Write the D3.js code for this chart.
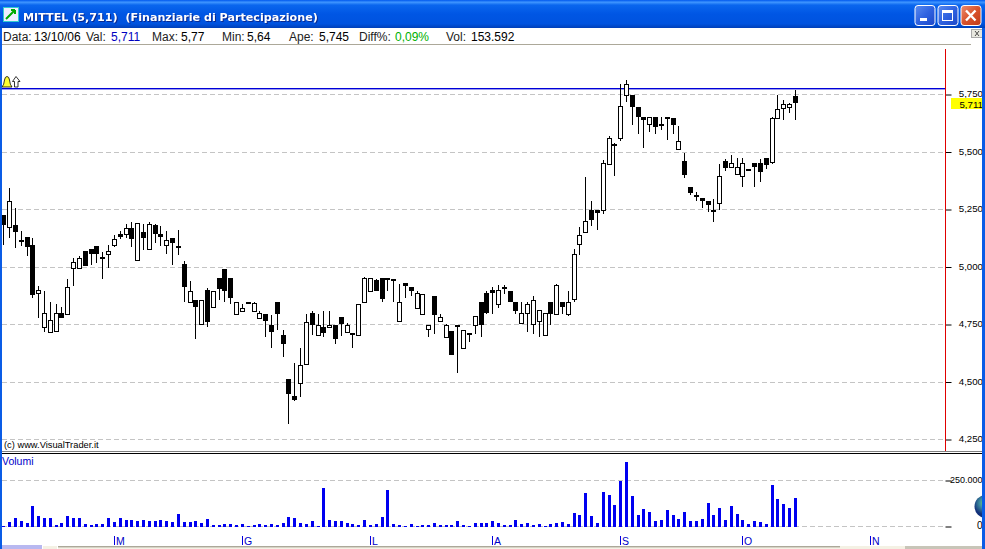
<!DOCTYPE html>
<html><head><meta charset="utf-8">
<script src="https://cdn.jsdelivr.net/npm/d3@7"></script>
<style>html,body{margin:0;padding:0;background:#fff;overflow:hidden}svg{display:block}</style>
</head><body><svg id="c" width="985" height="549"></svg>
<script>
const titleText="MITTEL (5,711)  (Finanziarie di Partecipazione)";
const opens=[5.226,5.175,5.182,5.117,5.129,5.095,4.888,4.740,4.718,4.723,4.798,4.797,4.997,4.997,5.069,5.078,5.091,5.042,5.058,5.097,5.143,5.145,5.168,5.031,5.152,5.079,5.181,5.143,5.097,5.124,5.091,5.013,4.849,
4.855,4.753,4.898,4.827,4.952,4.991,4.952,4.797,4.810,4.847,4.810,4.779,4.794,4.750,4.846,4.704,4.511,4.441,4.496,4.579,4.798,4.705,4.741,4.740,4.750,4.781,4.718,4.711,4.705,4.849,4.897,4.942,4.950,4.950,
4.947,4.766,4.929,4.915,4.823,4.797,4.731,4.876,4.766,4.696,4.720,4.750,4.649,4.711,4.749,4.850,4.889,4.898,4.840,4.915,4.894,4.850,4.757,4.798,4.753,4.766,4.705,4.850,4.797,4.850,4.797,
4.863,5.098,5.150,5.250,5.250,5.250,5.449,5.534,5.559,5.750,5.750,5.694,5.652,5.620,5.650,5.620,5.650,5.647,5.515,5.459,5.346,5.311,5.298,5.285,5.250,5.279,5.459,5.433,5.405,5.396,5.420,5.450,5.450,5.472,5.457,5.649,5.692,5.697,5.745];
const highs=[5.226,5.342,5.255,5.156,5.129,5.124,4.917,4.895,4.847,4.839,4.827,4.947,5.037,5.047,5.069,5.078,5.091,5.065,5.095,5.139,5.156,5.187,5.194,5.190,5.187,5.194,5.187,5.178,5.156,5.124,5.160,5.026,4.939,
4.855,4.855,4.907,4.894,4.952,4.991,4.952,4.846,4.837,4.847,4.847,4.808,4.794,4.791,4.846,4.725,4.515,4.582,4.647,4.794,4.808,4.794,4.808,4.808,4.750,4.781,4.755,4.711,4.837,4.956,4.950,4.946,4.950,4.950,
4.947,4.926,4.929,4.915,4.895,4.881,4.750,4.876,4.794,4.754,4.720,4.750,4.724,4.711,4.789,4.850,4.894,4.915,4.921,4.921,4.894,4.850,4.847,4.847,4.872,4.811,4.798,4.850,4.926,4.850,4.894,
5.077,5.176,5.391,5.289,5.250,5.467,5.568,5.541,5.794,5.815,5.750,5.694,5.652,5.650,5.650,5.650,5.650,5.647,5.612,5.495,5.346,5.328,5.298,5.285,5.295,5.447,5.469,5.486,5.473,5.473,5.428,5.450,5.469,5.472,5.652,5.747,5.726,5.715,5.77];
const lows=[5.095,5.127,5.084,5.092,5.047,4.866,4.779,4.718,4.718,4.723,4.778,4.797,4.917,4.997,5.004,5.008,5.017,4.947,4.995,5.087,5.121,5.124,5.087,5.031,5.073,5.079,5.104,5.091,5.056,5.008,5.052,4.847,4.849,
4.686,4.753,4.740,4.827,4.856,4.847,4.839,4.797,4.810,4.837,4.810,4.779,4.695,4.647,4.725,4.608,4.317,4.417,4.434,4.579,4.704,4.705,4.695,4.740,4.665,4.700,4.718,4.647,4.705,4.849,4.897,4.895,4.847,4.895,
4.847,4.766,4.865,4.873,4.823,4.797,4.695,4.708,4.766,4.696,4.617,4.538,4.649,4.673,4.708,4.695,4.795,4.795,4.821,4.882,4.847,4.795,4.757,4.717,4.708,4.695,4.705,4.747,4.797,4.795,4.786,
4.848,5.051,5.150,5.179,5.160,5.231,5.449,5.395,5.547,5.717,5.617,5.578,5.517,5.586,5.578,5.595,5.552,5.578,5.515,5.386,5.312,5.286,5.256,5.238,5.195,5.247,5.417,5.433,5.405,5.347,5.420,5.347,5.369,5.425,5.447,5.649,5.639,5.669,5.64];
const closes=[5.182,5.285,5.153,5.108,5.088,4.878,4.902,4.798,4.768,4.798,4.778,4.915,5.020,5.037,5.004,5.056,5.056,5.036,5.068,5.120,5.130,5.168,5.121,5.190,5.126,5.185,5.143,5.130,5.116,5.104,5.088,4.913,4.894,
4.827,4.855,4.762,4.894,4.904,4.895,4.865,4.846,4.820,4.843,4.842,4.798,4.766,4.717,4.795,4.665,4.447,4.421,4.572,4.759,4.747,4.750,4.714,4.750,4.686,4.752,4.746,4.704,4.837,4.950,4.950,4.895,4.860,4.943,
4.944,4.850,4.917,4.895,4.889,4.881,4.750,4.791,4.781,4.750,4.617,4.743,4.724,4.708,4.789,4.749,4.798,4.886,4.898,4.908,4.847,4.808,4.798,4.837,4.855,4.811,4.798,4.795,4.920,4.827,4.850,
5.058,5.141,5.202,5.205,5.233,5.454,5.563,5.525,5.702,5.794,5.694,5.653,5.640,5.650,5.610,5.614,5.647,5.617,5.546,5.399,5.322,5.305,5.288,5.269,5.247,5.394,5.431,5.450,5.433,5.450,5.428,5.436,5.414,5.443,5.646,5.689,5.707,5.707,5.711];
const volumes=[900,23700,47400,27300,18200,109400,54700,45600,45600,7300,16400,54700,47400,45600,14600,5500,10900,10900,43800,21900,43800,32800,32800,27300,32800,27300,27300,32800,27300,21900,65600,25500,21900,27300,16400,38300,5500,9100,14600,10900,5500,14600,1800,7300,10900,9100,12800,9100,16400,49200,43800,18200,10900,27300,3600,207800,34600,29200,29200,18200,12800,7300,34600,5500,12800,51000,198700,12800,7300,3600,12800,3600,5500,7300,18200,9100,9100,9100,29200,9100,3600,18200,18200,18200,29200,18200,7300,9100,34600,12800,18200,9100,12800,3600,12800,18200,23700,12800,72900,62000,182300,56500,18200,187800,171400,116700,247900,351800,165900,62000,94800,78400,29200,32800,87500,60200,38300,76600,27300,27300,38300,125800,60200,98400,32800,109400,65600,32800,10900,27300,21900,10900,224200,147700,120300,98400,153592];
const priceTicks=[5.75,5.5,5.25,5,4.75,4.5,4.25];
const volumeTicks=[250000,0];
const monthLabels=["M","G","L","A","S","O","N"];
const monthIndex=[19,41,63,84,106,127,149];
const alertLevel=5.777, lastValue=5.711;
const infoLabels=[["Data:",3,"#222"],["13/10/06",34,"#000"],["Val:",86,"#222"],["5,711",111,"#0000c0"],["Max:",152,"#222"],["5,77",181,"#000"],["Min:",222,"#222"],["5,64",247,"#000"],["Ape:",289,"#222"],["5,745",319,"#000"],["Diff%:",359,"#222"],["0,09%",395,"#00b000"],["Vol:",446,"#222"],["153.592",471,"#000"]];

const svg=d3.select("#c");
const sans="Liberation Sans, Arial, sans-serif";
const defs=svg.append("defs");
const tg=defs.append("linearGradient").attr("id","tb").attr("x1",0).attr("x2",0).attr("y1",0).attr("y2",1);
[[0,"#0058ee"],[.08,"#3f95ff"],[.18,"#0a66ee"],[.5,"#0056e4"],[.85,"#0053df"],[1,"#0040b8"]].forEach(s=>tg.append("stop").attr("offset",s[0]).attr("stop-color",s[1]));
const rg=defs.append("linearGradient").attr("id","cl").attr("x1",0).attr("x2",1).attr("y1",0).attr("y2",1);
[[0,"#ec8d70"],[.5,"#d9532c"],[1,"#c03a18"]].forEach(s=>rg.append("stop").attr("offset",s[0]).attr("stop-color",s[1]));
const bg=defs.append("linearGradient").attr("id","bl").attr("x1",0).attr("x2",1).attr("y1",0).attr("y2",1);
[[0,"#5b8cf0"],[.5,"#2f62e0"],[1,"#1c47c8"]].forEach(s=>bg.append("stop").attr("offset",s[0]).attr("stop-color",s[1]));
const gl=defs.append("radialGradient").attr("id","gl").attr("cx",.45).attr("cy",.35);
[[0,"#7fe060"],[.45,"#3f8fa0"],[1,"#12307a"]].forEach(s=>gl.append("stop").attr("offset",s[0]).attr("stop-color",s[1]));

const x=d3.scaleLinear().domain([0,136]).range([3.8,795.3]);
const y=d3.scaleLinear().domain([4.25,5.75]).range([439.5,94.5]);
const yv=d3.scaleLinear().domain([0,250000]).range([526.5,480.5]);
const px=i=>Math.floor(x(i));

// title bar
svg.append("rect").attr("width",985).attr("height",28).attr("fill","url(#tb)");
const ic=svg.append("g");
ic.append("rect").attr("x",3.5).attr("y",7.5).attr("width",15).attr("height",14).attr("fill","#eef").attr("stroke","#3cc").attr("stroke-width",1);
ic.append("path").attr("d","M6 19L15 10M15 10l-4 0M15 10l0 4").attr("stroke","#0a0").attr("stroke-width",2).attr("fill","none");
svg.append("text").text(titleText).attr("x",23).attr("y",21).attr("xml:space","preserve").attr("font-family","DejaVu Sans, sans-serif").attr("font-weight","bold").attr("font-size",11.15).attr("fill","#fff").style("filter","drop-shadow(1px 1px 0 #0a2a90)");
const btn=(bx,fill)=>svg.append("rect").attr("x",bx).attr("y",5.5).attr("width",20).attr("height",20).attr("rx",3).attr("fill",fill).attr("stroke","#fff");
btn(915,"url(#bl)");btn(938,"url(#bl)");btn(961,"url(#cl)");
svg.append("rect").attr("x",920).attr("y",18).attr("width",7).attr("height",3).attr("fill","#fff");
svg.append("rect").attr("x",942.5).attr("y",10.5).attr("width",10).attr("height",10).attr("fill","none").attr("stroke","#fff");
svg.append("rect").attr("x",942).attr("y",10).attr("width",11).attr("height",3).attr("fill","#fff");
svg.append("path").attr("d","M966 10.5L975.5 20.5M975.5 10.5L966 20.5").attr("stroke","#fff").attr("stroke-width",2.4);

// info strip
infoLabels.forEach(l=>svg.append("text").text(l[0]).attr("x",l[1]).attr("y",41).attr("font-family",sans).attr("font-size",12).attr("fill",l[2]));
svg.append("rect").attr("x",2).attr("y",44).attr("width",969).attr("height",1).attr("fill","#aca899");
svg.append("rect").attr("x",971.5).attr("y",29.5).attr("width",11).attr("height",8).attr("fill","#e8e8e0").attr("stroke","#aaa");
svg.append("path").attr("d","M975 31l4 5M979 31l-4 5").attr("stroke","#222").attr("stroke-width",.8);

// price grid and axis
svg.append("g").selectAll("line").data(priceTicks).join("line").attr("x1",2).attr("x2",945).attr("y1",d=>Math.floor(y(d))+.5).attr("y2",d=>Math.floor(y(d))+.5).attr("stroke","#c4c4c4").attr("stroke-dasharray","5,3");
const ya=svg.append("g").attr("transform","translate(945.5,0)").call(d3.axisRight(y).tickValues(priceTicks).tickSize(6).tickFormat(d=>d.toFixed(3).replace(".",",")));
ya.select(".domain").remove();
ya.selectAll("text").attr("font-family",sans).attr("font-size",9.7).attr("fill","#000").attr("text-anchor","end").attr("x",37.5).attr("dy","0.22em");
ya.selectAll("line").attr("stroke","#000");
// volume grid and axis
svg.append("g").selectAll("line").data(volumeTicks).join("line").attr("x1",2).attr("x2",945).attr("y1",d=>Math.floor(yv(d))+.5).attr("y2",d=>Math.floor(yv(d))+.5).attr("stroke","#c4c4c4").attr("stroke-dasharray","5,3");
const va=svg.append("g").attr("transform","translate(945.5,0)").call(d3.axisRight(yv).tickValues(volumeTicks).tickSize(6).tickFormat(d=>d===0?"0":d3.format(",")(d).replace(",",".")));
va.select(".domain").remove();
va.selectAll("text").attr("font-family",sans).attr("font-size",d=>d===0?10:9).attr("fill","#000").attr("text-anchor","end").attr("x",37).attr("dy",d=>d===0?"0.2em":"0.25em");
va.selectAll("line").attr("stroke","#000");

// right-hand divider
svg.append("rect").attr("x",945).attr("y",49).attr("width",1).attr("height",402).attr("fill","#e00000");

// alert line
svg.append("rect").attr("x",2).attr("y",Math.round(y(alertLevel))).attr("width",943).attr("height",1.4).attr("fill","#0000d8");
const bell=svg.append("g");
bell.append("path").attr("d","M2 87Q4 85 4.5 80Q5 76.5 7 76.5Q9 76.5 9.5 80Q10 85 12 87Z").attr("fill","#ffff30").attr("stroke","#000").attr("stroke-width",.8);
bell.append("path").attr("d","M16 76.5L20 81.5H18V87H14.5V81.5H12.5Z").attr("fill","#fff").attr("stroke","#000").attr("stroke-width",.8);

// last value label
svg.append("rect").attr("x",951).attr("y",98).attr("width",32).attr("height",11).attr("fill","#ffff00");
svg.append("text").text(lastValue.toFixed(3).replace(".",",")).attr("x",983).attr("y",107.5).attr("text-anchor","end").attr("font-family",sans).attr("font-size",9.7).attr("fill","#000");

// candles
const idx=d3.range(opens.length);
svg.append("g").selectAll("rect").data(idx).join("rect").attr("x",px).attr("width",1)
 .attr("y",i=>Math.round(y(highs[i]))).attr("height",i=>Math.max(1,Math.round(y(lows[i]))-Math.round(y(highs[i])))).attr("fill","#000");
svg.append("g").selectAll("rect").data(idx).join("rect").each(function(i){
  const top=Math.round(y(Math.max(opens[i],closes[i]))), bot=Math.round(y(Math.min(opens[i],closes[i])));
  const up=closes[i]>=opens[i], s=d3.select(this);
  if(up) s.attr("x",px(i)-1.5).attr("width",4).attr("y",top+.5).attr("height",Math.max(1,bot-top)).attr("fill","#fff").attr("stroke","#000").attr("stroke-width",1);
  else s.attr("x",px(i)-2).attr("width",5).attr("y",top).attr("height",Math.max(2,bot-top)).attr("fill","#000");
});

svg.append("text").text("(c) www.VisualTrader.it").attr("x",4).attr("y",447.5).attr("font-family",sans).attr("font-size",9.3).attr("fill","#000");

// pane separator
svg.append("rect").attr("x",2).attr("y",451).attr("width",980).attr("height",1).attr("fill","#808080");
svg.append("rect").attr("x",2).attr("y",453).attr("width",980).attr("height",1).attr("fill","#000");
svg.append("text").text("Volumi").attr("x",2).attr("y",465).attr("font-family",sans).attr("font-size",10.5).attr("fill","#0000c8");

// volume bars
svg.append("g").selectAll("rect").data(idx).join("rect").attr("x",i=>px(i)-1).attr("width",3)
 .attr("y",i=>Math.round(yv(volumes[i]))).attr("height",i=>Math.max(1,Math.round(yv(0))-Math.round(yv(volumes[i])))).attr("fill","#0000f0");

// month marks
const mg=svg.append("g").selectAll("g").data(monthLabels).join("g");
mg.append("rect").attr("x",(d,i)=>px(monthIndex[i])).attr("y",536).attr("width",1).attr("height",10).attr("fill","#0000e0");
mg.append("text").text(d=>d).attr("x",(d,i)=>px(monthIndex[i])+2).attr("y",545).attr("font-family",sans).attr("font-size",10.5).attr("fill","#0000c8");

// globe
svg.append("circle").attr("cx",986).attr("cy",506.5).attr("r",11.5).attr("fill","url(#gl)");

// bottom strip
svg.append("rect").attr("x",0).attr("y",545).attr("width",985).attr("height",4).attr("fill","#fff");
svg.append("rect").attr("x",2).attr("y",545).attr("width",40).attr("height",4).attr("fill","#b8b8f0");
svg.append("rect").attr("x",43).attr("y",546).attr("width",14).attr("height",3).attr("fill","#f4f1e4");
svg.append("rect").attr("x",58).attr("y",546).attr("width",847).attr("height",3).attr("fill","#f4f1e4");
svg.append("rect").attr("x",58).attr("y",546).attr("width",782).attr("height",1.4).attr("fill","#aca899");
svg.append("rect").attr("x",905).attr("y",546).attr("width",77).attr("height",3).attr("fill","#c8c5b8");

// window frame, on top
svg.append("rect").attr("x",0).attr("y",28).attr("width",2).attr("height",521).attr("fill","#0a5ce6");
svg.append("rect").attr("x",982).attr("y",28).attr("width",3).attr("height",521).attr("fill","#0a5ce6");
</script></body></html>
